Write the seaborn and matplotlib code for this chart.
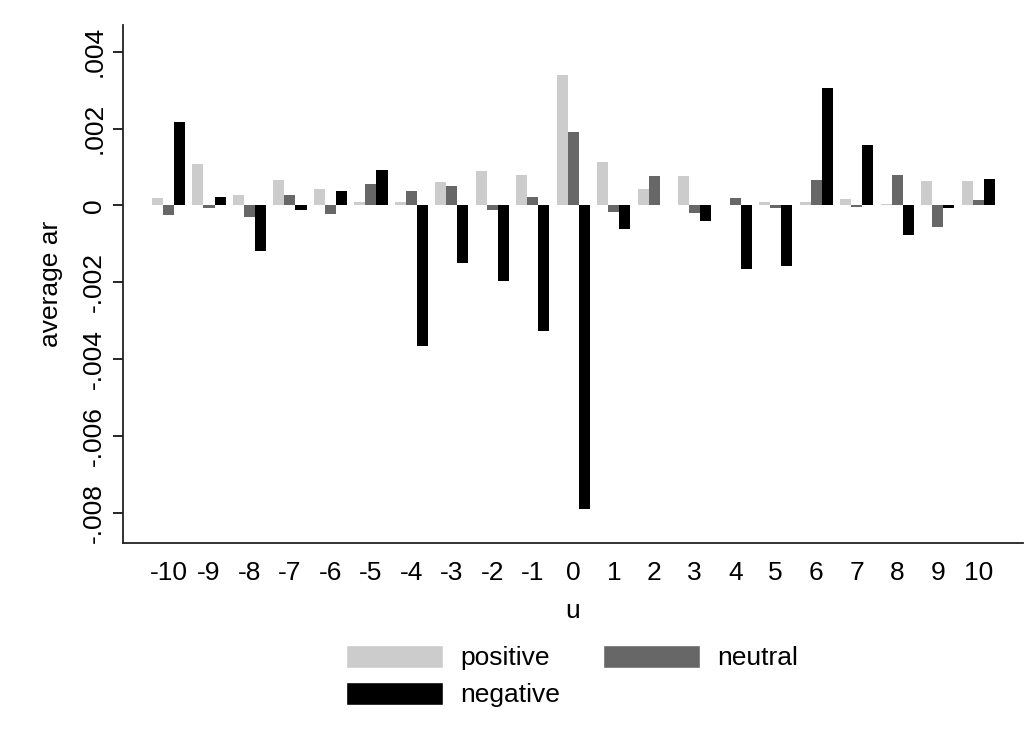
import matplotlib
matplotlib.use("Agg")
import matplotlib.pyplot as plt
import seaborn as sns
import pandas as pd
from matplotlib.patches import Patch

u_labels = [str(i) for i in range(-10, 11)]
positive = [0.00020, 0.00107, 0.00027, 0.00067, 0.00043, 0.00010, 0.00010, 0.00060, 0.00090, 0.00080,
            0.00339, 0.00113, 0.00043, 0.00077, 0.0, 0.00010, 0.00008, 0.00017, 0.00004, 0.00063, 0.00063]
neutral = [-0.00026, -0.00006, -0.00030, 0.00027, -0.00023, 0.00057, 0.00037, 0.00050, -0.00013, 0.00023,
           0.00190, -0.00017, 0.00077, -0.00019, 0.00020, -0.00006, 0.00067, -0.00003, 0.00080, -0.00056, 0.00013]
negative = [0.00216, 0.00023, -0.00119, -0.00013, 0.00037, 0.00093, -0.00366, -0.00150, -0.00196, -0.00326,
            -0.00789, -0.00060, 0.0, -0.00040, -0.00165, -0.00157, 0.00306, 0.00157, -0.00077, -0.00007, 0.00070]
groups = ["positive", "neutral", "negative"]
colors = ["#cccccc", "#676767", "#000000"]
yticks = [-0.008, -0.006, -0.004, -0.002, 0, 0.002, 0.004]
ytick_labels = ["-.008", "-.006", "-.004", "-.002", "0", ".002", ".004"]

df = pd.DataFrame({
    "u": u_labels * 3,
    "group": [g for g in groups for _ in u_labels],
    "ar": positive + neutral + negative,
})

sns.set_style("ticks")
plt.rcParams["font.family"] = ["Liberation Sans", "DejaVu Sans"]
plt.rcParams["text.color"] = "black"
plt.rcParams["axes.labelcolor"] = "black"
plt.rcParams["xtick.color"] = "black"
plt.rcParams["ytick.color"] = "black"

fig = plt.figure(figsize=(10.35, 7.49), dpi=100)
ax = fig.add_axes([123 / 1035, 1 - 543 / 749, (1022.7 - 123) / 1035, (543 - 25) / 749])

sns.barplot(data=df, x="u", y="ar", hue="group", order=u_labels, hue_order=groups,
            palette=colors, width=0.82, gap=0, saturation=1, ax=ax, legend=False,
            linewidth=0, edgecolor="none")

ax.set_xlim(-1.124, 21.10)
ax.set_ylim(-0.008778, 0.004694)
ax.set_yticks(yticks)
ax.set_yticklabels(ytick_labels, rotation=90, va="center", fontsize=19)
ax.tick_params(axis="y", length=7, width=1.2, pad=5)
ax.tick_params(axis="x", length=0, pad=13, labelsize=19)
ax.set_xlabel("u", fontsize=19, labelpad=10)
ax.set_ylabel("average ar", fontsize=19, labelpad=14)
for s in ["top", "right"]:
    ax.spines[s].set_visible(False)
for s in ["left", "bottom"]:
    ax.spines[s].set_linewidth(1.3)
    ax.spines[s].set_color("#222222")

handles = [Patch(facecolor=colors[0]), Patch(facecolor=colors[2]), Patch(facecolor=colors[1])]
labels = [groups[0], groups[2], groups[1]]
fig.legend(handles, labels, ncol=2, frameon=False, fontsize=19,
           loc="center", bbox_to_anchor=(572 / 1035, 1 - 676 / 749),
           handlelength=3.7, handleheight=1.0, handletextpad=0.65,
           columnspacing=1.6, labelspacing=0.42)

fig.savefig("out.png", dpi=100)
